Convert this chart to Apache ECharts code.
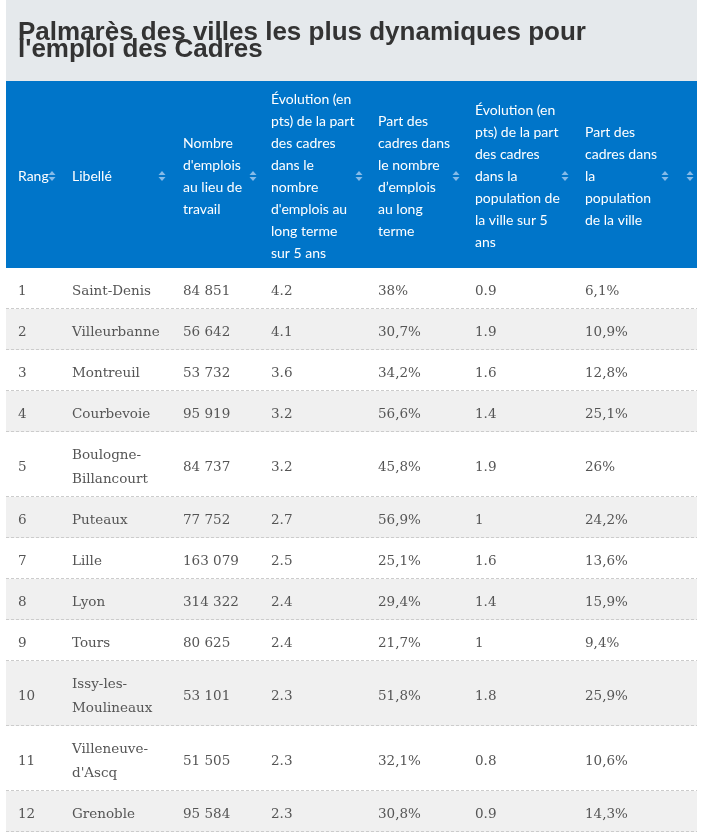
<!DOCTYPE html>
<html>
<head>
<meta charset="utf-8">
<script src="https://cdn.jsdelivr.net/npm/echarts@6/dist/echarts.min.js"></script>
<style>
html,body{margin:0;padding:0;background:#fff;}
#chart{width:710px;height:834px;}
</style>
</head>
<body>
<div id="chart"></div>
<script>
// ---- data ----
var titleLines = ["Palmarès des villes les plus dynamiques pour", "l'emploi des Cadres"];
var headers = [
  "Rang",
  "Libellé",
  "Nombre\nd'emplois\nau lieu de\ntravail",
  "Évolution (en\npts) de la part\ndes cadres\ndans le\nnombre\nd'emplois au\nlong terme\nsur 5 ans",
  "Part des\ncadres dans\nle nombre\nd’emplois\nau long\nterme",
  "Évolution (en\npts) de la part\ndes cadres\ndans la\npopulation de\nla ville sur 5\nans",
  "Part des\ncadres dans\nla\npopulation\nde la ville"
];
var ranks = [1,2,3,4,5,6,7,8,9,10,11,12];
var cities = ["Saint-Denis","Villeurbanne","Montreuil","Courbevoie","Boulogne-\nBillancourt","Puteaux","Lille","Lyon","Tours","Issy-les-\nMoulineaux","Villeneuve-\nd'Ascq","Grenoble"];
var emplois = [84851,56642,53732,95919,84737,77752,163079,314322,80625,53101,51505,95584];
var evolEmplois = [4.2,4.1,3.6,3.2,3.2,2.7,2.5,2.4,2.4,2.3,2.3,2.3];
var partEmplois = [38,30.7,34.2,56.6,45.8,56.9,25.1,29.4,21.7,51.8,32.1,30.8];
var evolPop = [0.9,1.9,1.6,1.4,1.9,1,1.6,1.4,1,1.8,0.8,0.9];
var partPop = [6.1,10.9,12.8,25.1,26,24.2,13.6,15.9,9.4,25.9,10.6,14.3];

// ---- layout / style ----
var L = {
  left: 6, right: 697,
  titleBottom: 81, headerBottom: 268,
  headerMid: 176,
  colX: [18, 72, 183, 271, 378, 475, 585],
  iconX: [52, 162, 253, 359, 456, 565, 665, 690],
  rowSingle: 41, rowExtraLine: 24, textShift: 2.5
};
var C = {
  titleBg: '#e5e9ec', title: '#333333', header: '#0075c9',
  headerText: '#ffffff', icon: '#86bbe8', text: '#555555',
  stripe: '#f0f0f0', dash: '#cccccc'
};

function fmtInt(n){ return String(n).replace(/\B(?=(\d{3})+(?!\d))/g, ' '); }
function fmtPct(v){ return String(v).replace('.', ',') + '%'; }

var elements = [];
// title block
elements.push({type:'rect', shape:{x:L.left, y:0, width:L.right-L.left, height:L.titleBottom}, style:{fill:C.titleBg}, silent:true});
titleLines.forEach(function(t, i){
  elements.push({type:'text', x:18, y:33 + i*17, style:{text:t, fill:C.title, font:'bold 26px "Liberation Sans", Arial, sans-serif', verticalAlign:'middle', align:'left'}});
});
// header
elements.push({type:'rect', shape:{x:L.left, y:L.titleBottom, width:L.right-L.left, height:L.headerBottom-L.titleBottom}, style:{fill:C.header}});
headers.forEach(function(h, i){
  elements.push({type:'text', x:L.colX[i], y:L.headerMid, style:{text:h, fill:C.headerText, font:'14px Lato, sans-serif', lineHeight:22, verticalAlign:'middle', align:'left'}});
});
L.iconX.forEach(function(cx){
  var cy = L.headerMid;
  elements.push({type:'polygon', shape:{points:[[cx-3.5,cy-1],[cx+3.5,cy-1],[cx,cy-5]]}, style:{fill:C.icon}});
  elements.push({type:'polygon', shape:{points:[[cx-3.5,cy+1],[cx+3.5,cy+1],[cx,cy+5]]}, style:{fill:C.icon}});
});
// body rows
var y = L.headerBottom;
ranks.forEach(function(r, i){
  var cells = [String(r), cities[i], fmtInt(emplois[i]), String(evolEmplois[i]), fmtPct(partEmplois[i]), String(evolPop[i]), fmtPct(partPop[i])];
  var lines = cities[i].split('\n').length;
  var h = L.rowSingle + (lines-1)*L.rowExtraLine;
  if (i % 2 === 1) {
    elements.push({type:'rect', shape:{x:L.left, y:y, width:L.right-L.left, height:h}, style:{fill:C.stripe}});
  }
  var mid = y + h/2 + L.textShift;
  cells.forEach(function(c, j){
    elements.push({type:'text', x:L.colX[j], y:mid, style:{text:c, fill:C.text, font:'13.5px "DejaVu Serif", serif', lineHeight:24, verticalAlign:'middle', align:'left'}});
  });
  y += h;
  elements.push({type:'line', shape:{x1:L.left, y1:y-0.5, x2:L.right, y2:y-0.5}, style:{stroke:C.dash, lineWidth:1, lineDash:[3,2]}});
});

var chart = echarts.init(document.getElementById('chart'), null, {renderer:'canvas'});
chart.setOption({
  animation:false,
  graphic:{elements:elements}
});
</script>
</body>
</html>
